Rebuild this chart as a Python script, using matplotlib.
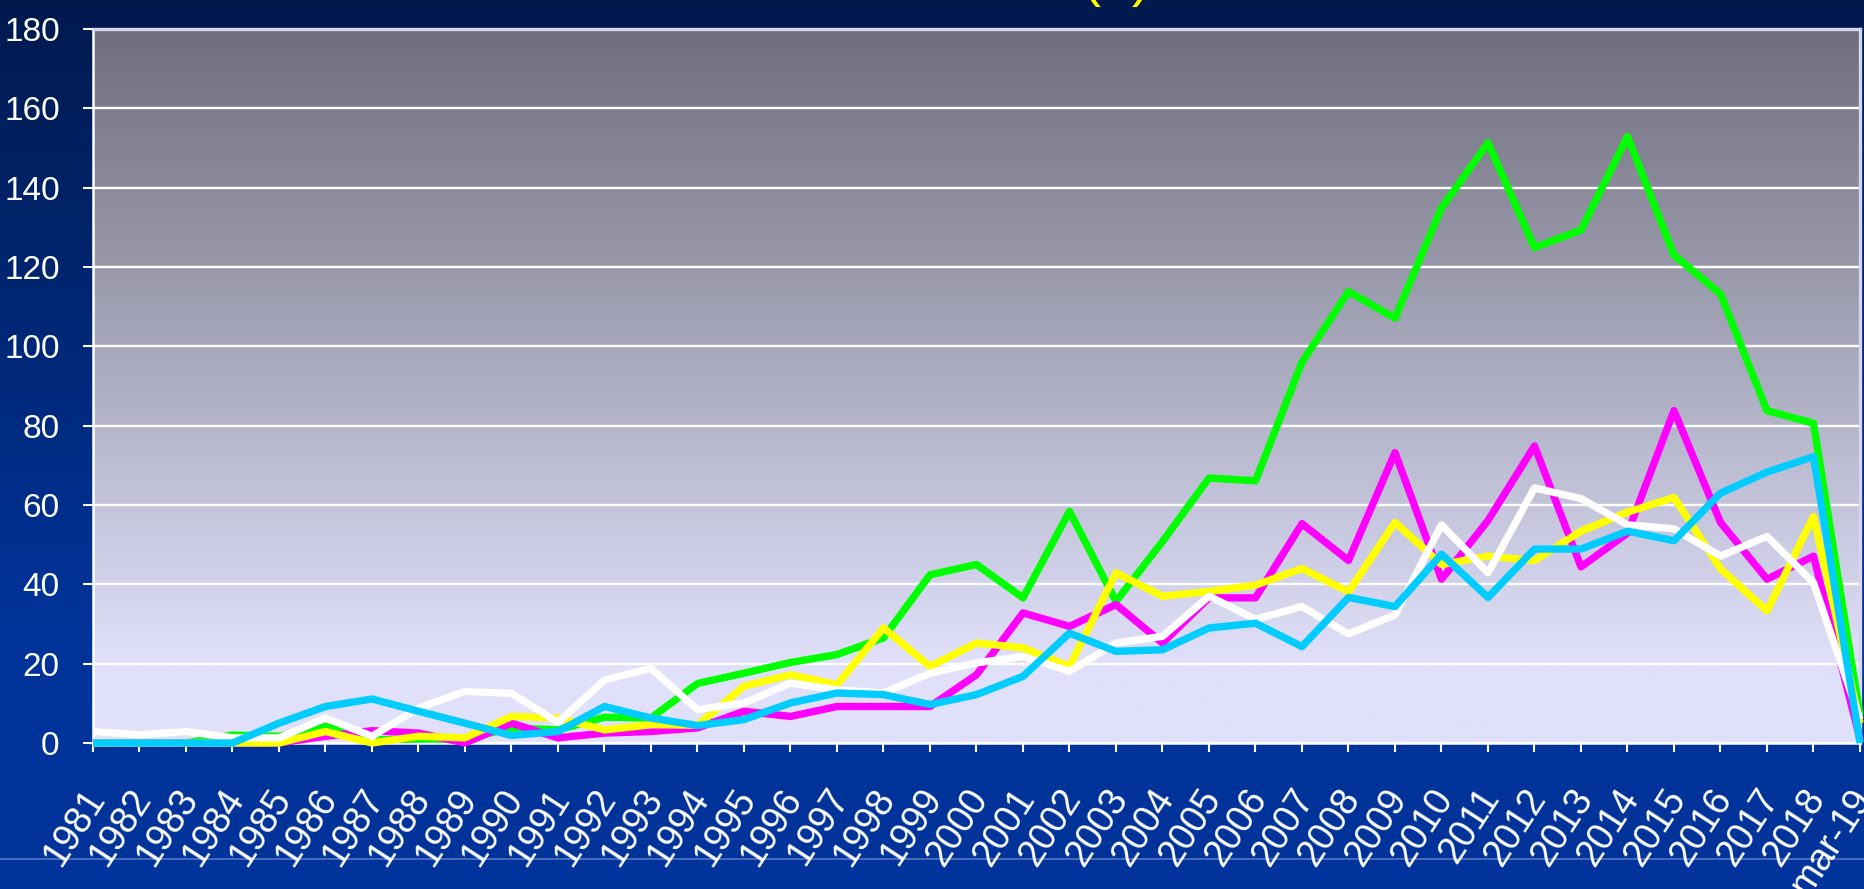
import numpy as np
import matplotlib
matplotlib.use("Agg")
import matplotlib.pyplot as plt
import matplotlib.transforms as mtransforms
from matplotlib import font_manager

# ---------------- data ----------------
years = [str(y) for y in range(1981, 2019)] + ["mar-19"]

green = [0, 0, 0, 2, 1.7, 4.2, 0.8, 1, 1, 3.8, 3.3, 6.5, 6.3, 15, 17.6, 20.3, 22.3, 26.5,
         42.4, 45, 36.6, 58.4, 35.7, 50.8, 66.8, 66.1, 96, 113.8, 107.1, 134.9, 151.3,
         124.9, 129.3, 152.9, 123, 113.2, 83.8, 80.6, 7]
magenta = [0, 0, 0, 0, 0, 1.7, 3.1, 2.5, 0, 5, 1.3, 2.5, 2.9, 3.8, 8, 6.7, 9.2, 9.2,
           9.2, 17.2, 32.8, 29.4, 34.9, 25.2, 36.6, 36.6, 55.3, 46, 73.2, 41.3, 56.1,
           74.9, 44.4, 52.9, 83.8, 55.6, 41.3, 47.1, 1]
yellow = [0, 0, 0, 0, 0, 2.9, 0, 1.7, 1.3, 6.7, 6.3, 3.3, 4.6, 4.5, 14.3, 17.2, 14.7, 29,
          19.3, 25.2, 24, 19.3, 42.9, 37, 38.2, 39.8, 44, 38.1, 55.6, 45, 47.1, 46,
          53.4, 58.2, 61.9, 43.9, 33.3, 57.1, 5]
white = [2.9, 2.1, 2.9, 1.3, 1.3, 6.3, 1.7, 8.8, 13, 12.5, 5.2, 15.9, 18.8, 8.4, 10.1,
         15.1, 13.4, 12.6, 17.6, 20.2, 21.8, 18.1, 25.2, 26.9, 37, 31.2, 34.4, 27.5,
         32.3, 55, 42.9, 64.3, 61.6, 55, 54, 47.1, 52.1, 40.4, 6]
cyan = [0, 0, 0, 0, 5, 9.2, 11.1, 8, 5, 1.9, 2.9, 9.2, 6.3, 4.4, 5.9, 10.1, 12.6, 12.2,
        9.7, 12.2, 16.8, 27.7, 23.1, 23.5, 29, 30.2, 24.3, 36.7, 34.4, 47.6, 36.7, 48.9,
        48.9, 53.4, 51, 63, 68.3, 72.2, 0]

series = [green, magenta, yellow, white, cyan]
colors = ["#00ff00", "#ff00ff", "#ffff00", "#ffffff", "#00ccff"]
yticks = list(range(0, 181, 20))
title = "Tendencia (n)"

# ---------------- fonts ----------------
plt.rcParams["font.family"] = ["Liberation Sans", "DejaVu Sans"]
try:
    font_manager.findfont(font_manager.FontProperties(family="Liberation Sans Narrow"),
                          fallback_to_default=False)
    ylab_family = ["Liberation Sans Narrow", "Liberation Sans"]
    ylab_size = 26
except Exception:
    ylab_family = ["Liberation Sans", "DejaVu Sans"]
    ylab_size = 24

# ---------------- figure ----------------
W, H, DPI = 1865, 889, 100
fig = plt.figure(figsize=(W / DPI, H / DPI), dpi=DPI)

# background gradient (navy -> royal blue) with bottom strip
bg = fig.add_axes([0, 0, 1, 1], zorder=-10)
bg.set_axis_off()
top_c = np.array([0, 26, 78]) / 255
bot_c = np.array([0, 51, 153]) / 255
strip_c = np.array([0, 52, 156]) / 255
line_c = np.array([70, 105, 185]) / 255
img = np.zeros((H, 1, 3))
for r in range(H):
    if r < 858:
        t = min(r / 620.0, 1.0)
        img[r, 0] = top_c + (bot_c - top_c) * t
    elif r < 860:
        img[r, 0] = line_c
    else:
        img[r, 0] = strip_c
bg.imshow(img, aspect="auto", extent=[0, 1, 0, 1], origin="upper")
bg.set_xlim(0, 1)
bg.set_ylim(0, 1)

# main axes
L, R, T, B = 93, 1860, 29, 743
ax = fig.add_axes([L / W, 1 - B / H, (R - L) / W, (B - T) / H])
n = len(years)

# plot-area gradient
ptop = np.array([110, 110, 124]) / 255
pbot = np.array([224, 224, 250]) / 255
vals = np.linspace(180, 0, 400)
pimg = np.zeros((400, 1, 3))
for i, v in enumerate(vals):
    t = np.clip((v - 20) / 160.0, 0, 1)
    pimg[i, 0] = pbot + (ptop - pbot) * t
ax.imshow(pimg, aspect="auto", extent=[0, n - 1, 0, 180], origin="upper", zorder=0.1)

ax.set_xlim(0, n - 1)
ax.set_ylim(0, 180)

ax.set_axisbelow(True)
ax.yaxis.grid(True, color="white", linewidth=1.7, zorder=0.5)
ax.xaxis.grid(False)

for s, c in zip(series, colors):
    ax.plot(range(n), s, color=c, linewidth=5.3, solid_joinstyle="round",
            solid_capstyle="butt", clip_on=False, zorder=3)

for side in ["left", "bottom"]:
    ax.spines[side].set_color("white")
    ax.spines[side].set_linewidth(1.8)
for side in ["top", "right"]:
    ax.spines[side].set_color("#d6d6f2")
    ax.spines[side].set_linewidth(2.4)

ax.set_yticks(yticks)
ax.set_yticklabels([str(v) for v in yticks], family=ylab_family)
ax.tick_params(axis="y", colors="white", length=7, width=1.5, pad=17,
               labelsize=ylab_size, direction="out")

ax.set_xticks(range(n))
ax.set_xticklabels(years, rotation=57, ha="right", va="center",
                   rotation_mode="anchor")
ax.tick_params(axis="x", colors="white", length=6.5, width=1.5, pad=29,
               labelsize=27, direction="out")
off = mtransforms.ScaledTranslation(4 / DPI, 0, fig.dpi_scale_trans)
for lab in ax.get_xticklabels():
    lab.set_transform(lab.get_transform() + off)

fig.text(1150 / W, 1 + 5 / H, title, color="#ffff00", fontsize=40,
         ha="right", va="baseline")

fig.savefig("out.png", dpi=DPI)
